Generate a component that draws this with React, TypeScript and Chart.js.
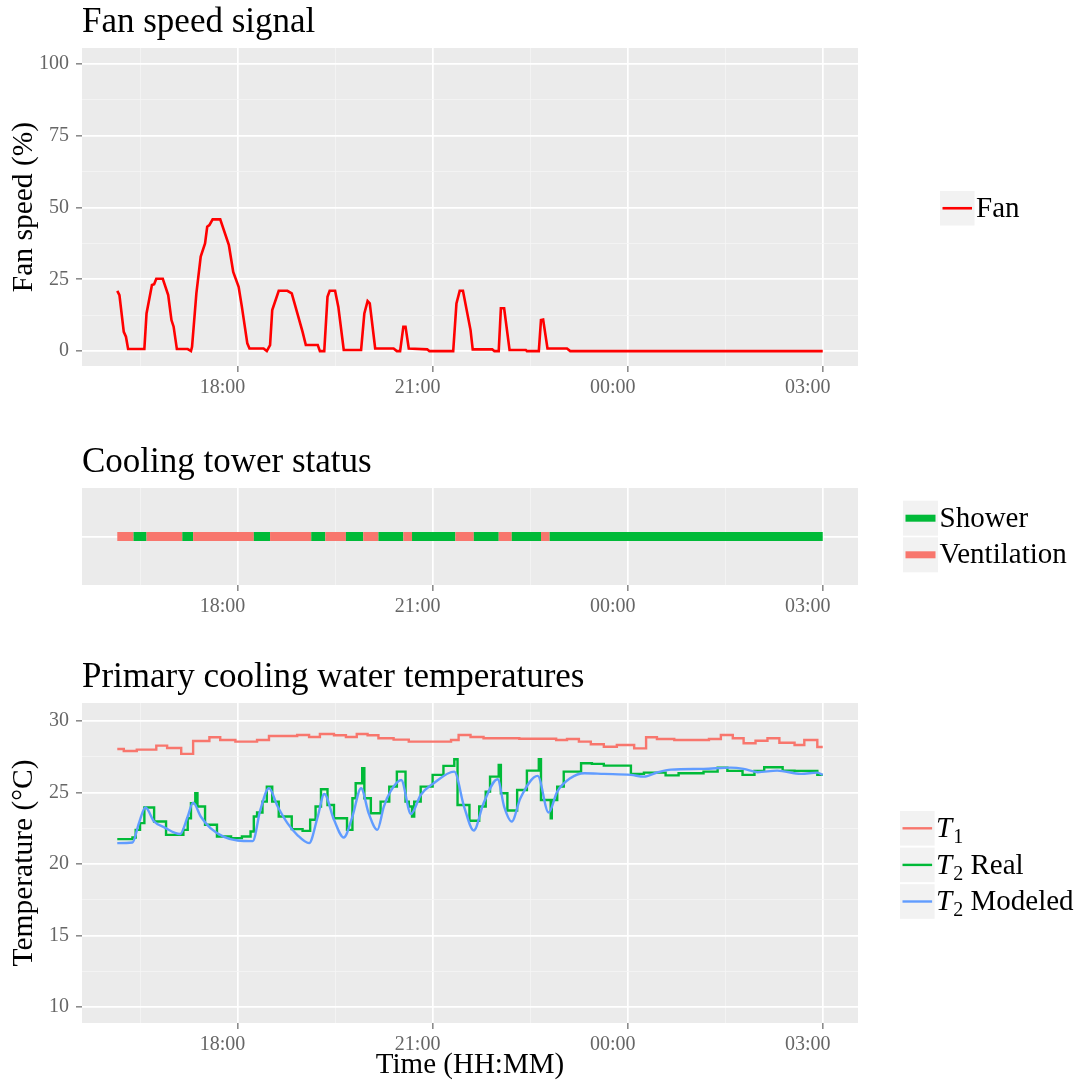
import React, { useEffect, useRef } from 'react';
import { Chart, registerables } from 'chart.js';

Chart.register(...registerables);

const FONT = "'Liberation Serif', 'Times New Roman', serif";
const TICK_GREY = '#666666';
const PANEL_BG = '#EBEBEB';
const KEY_BG = '#F2F2F2';
const MINOR_GRID = '#F5F5F5';

// Time axis labels (the night rolls past midnight)
const timeTickLabels = ['18:00', '21:00', '00:00', '03:00'];
const fanTickValues = [0, 25, 50, 75, 100];
const tempTickValues = [10, 15, 20, 25, 30];

// Fan speed signal (%)
const fanTimes = ['16:09', '16:11', '16:15', '16:17', '16:19', '16:34', '16:36', '16:41', '16:43', '16:45', '16:51', '16:56', '16:59', '17:01', '17:04', '17:14', '17:17', '17:18', '17:22', '17:26', '17:30', '17:32', '17:34', '17:37', '17:44', '17:52', '17:56', '18:01', '18:04', '18:09', '18:11', '18:24', '18:27', '18:30', '18:32', '18:38', '18:46', '18:50', '19:00', '19:03', '19:14', '19:16', '19:20', '19:23', '19:25', '19:30', '19:33', '19:38', '19:54', '19:57', '20:00', '20:02', '20:07', '20:24', '20:27', '20:30', '20:33', '20:35', '20:38', '20:55', '20:57', '21:19', '21:22', '21:25', '21:28', '21:35', '21:37', '21:55', '21:57', '22:01', '22:03', '22:06', '22:11', '22:26', '22:27', '22:38', '22:40', '22:42', '22:46', '23:04', '23:07', '03:00'];
const fanValues = [21.0, 19.5, 6.7, 5.0, 0.7, 0.7, 13.1, 23.0, 23.3, 25.2, 25.2, 19.5, 10.8, 8.5, 0.7, 0.7, 0, 1.5, 20.1, 32.9, 37.5, 43.3, 43.9, 45.9, 45.9, 36.9, 27.6, 22.4, 15.4, 2.7, 0.9, 0.9, 0, 2.1, 14.3, 21.0, 21.0, 20.1, 6.7, 2.1, 2.1, 0, 0, 18.9, 21.0, 21.0, 15.4, 0.4, 0.4, 13.1, 17.4, 16.6, 0.9, 0.9, 0, 0, 8.5, 8.5, 0.9, 0.6, 0, 0, 16.6, 21.0, 21.0, 7.3, 0.6, 0.6, 0, 0, 14.9, 14.9, 0.4, 0.4, 0, 0, 10.8, 11.0, 0.9, 0.9, 0, 0];

// Cooling tower mode: each mode holds from its start time until the next change
const statusTimes = ['16:09', '16:24', '16:36', '17:09', '17:19', '18:15', '18:30', '19:08', '19:21', '19:40', '19:56', '20:10', '20:33', '20:41', '21:21', '21:38', '22:01', '22:13', '22:40', '22:48'];
const statusModes = ['Ventilation', 'Shower', 'Ventilation', 'Shower', 'Ventilation', 'Shower', 'Ventilation', 'Shower', 'Ventilation', 'Shower', 'Ventilation', 'Shower', 'Ventilation', 'Shower', 'Ventilation', 'Shower', 'Ventilation', 'Shower', 'Ventilation', 'Shower'];
const statusEnd = '03:00';

// Primary cooling water temperatures (°C)
const t1Times = ['16:09', '16:15', '16:27', '16:45', '16:55', '17:08', '17:19', '17:34', '17:44', '17:58', '18:18', '18:29', '18:55', '19:06', '19:16', '19:29', '19:40', '19:50', '20:00', '20:10', '20:24', '20:38', '21:17', '21:24', '21:35', '21:47', '22:20', '22:54', '23:04', '23:15', '23:26', '23:38', '23:50', '00:06', '00:17', '00:27', '00:43', '01:15', '01:26', '01:37', '01:47', '01:58', '02:09', '02:20', '02:34', '02:43', '02:55', '03:00'];
const t1Values = [28.04, 27.9, 28.0, 28.28, 28.11, 27.7, 28.6, 28.86, 28.67, 28.56, 28.67, 28.95, 29.02, 28.88, 29.09, 29.0, 28.88, 29.09, 29.0, 28.79, 28.7, 28.56, 28.67, 29.02, 28.88, 28.79, 28.76, 28.67, 28.74, 28.56, 28.37, 28.2, 28.32, 28.09, 28.86, 28.74, 28.67, 28.74, 29.02, 28.79, 28.44, 28.62, 28.79, 28.48, 28.32, 28.67, 28.18, 28.18];

const t2RealTimes = ['16:09', '16:23', '16:26', '16:30', '16:34', '16:43', '16:54', '17:10', '17:14', '17:17', '17:21', '17:23', '17:30', '17:41', '17:54', '18:04', '18:12', '18:15', '18:18', '18:23', '18:27', '18:32', '18:38', '18:50', '19:00', '19:07', '19:12', '19:17', '19:23', '19:29', '19:41', '19:46', '19:49', '19:55', '19:57', '20:03', '20:12', '20:20', '20:27', '20:35', '20:38', '20:41', '20:43', '20:49', '21:00', '21:10', '21:20', '21:23', '21:34', '21:43', '21:49', '21:53', '22:01', '22:03', '22:09', '22:18', '22:27', '22:38', '22:40', '22:49', '22:50', '22:55', '23:01', '23:17', '23:27', '23:38', '00:03', '00:15', '00:35', '00:47', '01:10', '01:23', '01:32', '01:46', '01:57', '02:06', '02:23', '02:34', '02:55', '03:00'];
const t2RealValues = [21.74, 21.85, 22.39, 22.86, 23.95, 22.97, 22.04, 22.39, 23.2, 24.25, 24.95, 24.02, 22.74, 21.92, 21.81, 21.92, 22.27, 23.32, 23.6, 24.36, 25.41, 24.36, 23.32, 22.44, 22.32, 23.09, 24.02, 25.23, 24.13, 23.2, 22.39, 24.6, 25.65, 26.7, 24.6, 23.55, 24.36, 25.41, 26.46, 24.36, 24.02, 23.32, 24.36, 25.41, 26.23, 26.86, 27.33, 24.13, 23.02, 24.02, 25.06, 26.11, 26.93, 24.95, 23.74, 25.18, 26.53, 27.33, 24.48, 23.2, 24.48, 25.41, 26.46, 27.05, 27.0, 26.88, 26.3, 26.39, 26.2, 26.35, 26.46, 26.74, 26.51, 26.23, 26.51, 26.77, 26.53, 26.51, 26.23, 26.23];

const t2ModelTimes = ['16:09', '16:23', '16:29', '16:35', '16:43', '16:52', '17:07', '17:14', '17:19', '17:26', '17:35', '17:47', '18:00', '18:14', '18:21', '18:29', '18:37', '18:46', '18:55', '19:06', '19:14', '19:20', '19:29', '19:38', '19:46', '19:54', '20:01', '20:09', '20:15', '20:21', '20:31', '20:40', '20:49', '21:01', '21:20', '21:29', '21:38', '21:47', '22:00', '22:06', '22:13', '22:21', '22:37', '22:47', '22:55', '23:07', '23:20', '23:38', '00:03', '00:15', '00:27', '00:40', '01:10', '01:35', '01:47', '02:00', '02:18', '02:40', '02:55', '03:00'];
const t2ModelValues = [21.46, 21.5, 22.86, 23.95, 22.97, 22.58, 22.1, 23.32, 24.29, 23.32, 22.51, 21.92, 21.64, 21.6, 23.78, 25.3, 24.02, 22.86, 22.04, 21.46, 23.32, 24.9, 23.09, 21.85, 23.32, 25.3, 23.55, 22.39, 24.02, 25.06, 25.88, 23.5, 24.83, 25.65, 26.46, 24.02, 22.34, 24.25, 25.93, 24.02, 22.97, 24.6, 26.16, 23.6, 25.06, 26.0, 26.35, 26.3, 26.23, 26.11, 26.4, 26.6, 26.65, 26.74, 26.65, 26.42, 26.53, 26.3, 26.39, 26.23];

const MODE_COLOURS: Record<string, string> = { Shower: '#00BA38', Ventilation: '#F8766D' };

const toHours = (s: string) => {
  const [h, m] = s.split(':').map(Number);
  const v = h + m / 60;
  return v < 12 ? v + 24 : v;
};
const toPoints = (times: string[], values: number[]) =>
  times.map((t, i) => ({ x: toHours(t), y: values[i] }));

// x range: data span expanded by 5 % on each side
const spanHours = [...fanTimes, ...t1Times].map(toHours);
const tStart = Math.min(...spanHours);
const tEnd = Math.max(...spanHours);
const tPad = (tEnd - tStart) * 0.05;
const xMin = tStart - tPad;
const xMax = tEnd + tPad;

const majorHours = timeTickLabels.map(toHours);
const hourStep = majorHours[1] - majorHours[0];
const xGrid = [majorHours[0] - hourStep / 2, ...majorHours.flatMap((h) => [h, h + hourStep / 2])].filter(
  (h) => h >= xMin && h <= xMax,
);

const near = (list: number[], v: number) => list.some((w) => Math.abs(w - v) < 1e-6);
const withMinors = (majors: number[]) => {
  const out: number[] = [];
  majors.forEach((m, i) => {
    out.push(m);
    if (i < majors.length - 1) out.push((m + majors[i + 1]) / 2);
  });
  return out;
};

const gridStyle = (majors: number[], ticks = true) => ({
  color: (c: any) => (near(majors, c.tick?.value) ? '#FFFFFF' : MINOR_GRID),
  lineWidth: (c: any) => (near(majors, c.tick?.value) ? 1.7 : 0.8),
  tickColor: (c: any) => (near(majors, c.tick?.value) ? TICK_GREY : 'rgba(0,0,0,0)'),
  tickWidth: 1.2,
  tickLength: 6,
  drawTicks: ticks,
});

const timeAxis = (height: number, withTitle: boolean) => ({
  type: 'linear',
  min: xMin,
  max: xMax,
  afterBuildTicks: (s: any) => {
    s.ticks = xGrid.map((value) => ({ value }));
  },
  afterFit: (s: any) => {
    s.height = height;
  },
  border: { display: false },
  grid: gridStyle(majorHours),
  ticks: {
    autoSkip: false,
    maxRotation: 0,
    padding: 4,
    labelOffset: -15,
    color: TICK_GREY,
    font: { family: FONT, size: 20 },
    callback: (v: number) => {
      const i = majorHours.findIndex((h) => Math.abs(h - v) < 1e-6);
      return i >= 0 ? timeTickLabels[i] : '';
    },
  },
  title: {
    display: withTitle,
    text: 'Time (HH:MM)',
    color: '#000',
    font: { family: FONT, size: 29 },
    padding: { top: 0, bottom: 0 },
  },
});

const valueAxis = (min: number, max: number, majors: number[], title: string) => ({
  type: 'linear',
  min,
  max,
  afterBuildTicks: (s: any) => {
    s.ticks = withMinors(majors).map((value) => ({ value }));
  },
  afterFit: (s: any) => {
    s.width = 82;
  },
  border: { display: false },
  grid: gridStyle(majors),
  ticks: {
    autoSkip: false,
    padding: 7,
    color: TICK_GREY,
    font: { family: FONT, size: 20 },
    callback: (v: number) => (near(majors, v) ? String(v) : ''),
  },
  title: {
    display: true,
    text: title,
    color: '#000',
    font: { family: FONT, size: 29.5 },
    padding: { top: 7, bottom: 0 },
  },
});

type LabelPart = { text: string; italic?: boolean; sub?: boolean };
type LegendItem = { color: string; thickness: number; parts: LabelPart[] };
type LegendSpec = { x: number; top: number; size: number; gap: number; items: LegendItem[] };

// Panel background, panel title and ggplot-style legend keys
const makeDecor = (title: string, legend: LegendSpec) => ({
  id: 'panelDecor',
  beforeDraw(chart: any) {
    const { ctx, chartArea: a } = chart;
    ctx.save();
    ctx.fillStyle = PANEL_BG;
    ctx.fillRect(a.left, a.top, a.right - a.left, a.bottom - a.top);
    ctx.fillStyle = '#000';
    ctx.font = `35px ${FONT}`;
    ctx.textAlign = 'left';
    ctx.textBaseline = 'alphabetic';
    ctx.fillText(title, a.left, a.top - 16);
    ctx.restore();
  },
  afterDraw(chart: any) {
    const { ctx } = chart;
    const { x, top, size, gap, items } = legend;
    ctx.save();
    items.forEach((item, i) => {
      const y = top + i * (size + gap);
      ctx.fillStyle = KEY_BG;
      ctx.fillRect(x, y, size, size);
      ctx.strokeStyle = item.color;
      ctx.lineWidth = item.thickness;
      ctx.lineCap = 'butt';
      ctx.beginPath();
      ctx.moveTo(x + 2.5, y + size / 2);
      ctx.lineTo(x + size - 2.5, y + size / 2);
      ctx.stroke();
      let tx = x + size + 1.5;
      ctx.fillStyle = '#000';
      ctx.textAlign = 'left';
      ctx.textBaseline = 'alphabetic';
      item.parts.forEach((p) => {
        ctx.font = `${p.italic ? 'italic ' : ''}${p.sub ? 20 : 29}px ${FONT}`;
        ctx.fillText(p.text, tx, y + 26 + (p.sub ? 6 : 0));
        tx += ctx.measureText(p.text).width + (p.italic ? 1 : 0);
      });
    });
    ctx.restore();
  },
});

const common = (padding: any) => ({
  responsive: false,
  animation: false,
  events: [],
  layout: { padding },
  elements: { point: { radius: 0 }, line: { tension: 0 } },
  plugins: { legend: { display: false }, title: { display: false }, tooltip: { enabled: false } },
});

const fanConfig = () => ({
  type: 'line',
  data: {
    datasets: [
      {
        data: toPoints(fanTimes, fanValues),
        borderColor: '#FF0000',
        borderWidth: 2.6,
        fill: false,
      },
    ],
  },
  options: {
    ...common({ top: 48, left: 0, right: 217, bottom: 14 }),
    scales: {
      x: timeAxis(40, false),
      y: valueAxis(-5.2, 105.6, fanTickValues, 'Fan speed (%)'),
    },
  },
  plugins: [
    makeDecor('Fan speed signal', {
      x: 940,
      top: 191,
      size: 34.5,
      gap: 1.7,
      items: [{ color: '#FF0000', thickness: 2.6, parts: [{ text: 'Fan' }] }],
    }),
  ],
});

const statusConfig = () => ({
  type: 'line',
  data: {
    datasets: [
      {
        data: [...statusTimes, statusEnd].map((t) => ({ x: toHours(t), y: 1 })),
        borderWidth: 9,
        borderCapStyle: 'butt',
        borderColor: MODE_COLOURS.Shower,
        segment: { borderColor: (c: any) => MODE_COLOURS[statusModes[c.p0DataIndex]] },
        fill: false,
      },
    ],
  },
  options: {
    ...common({ top: 68, left: 0, right: 217, bottom: 10 }),
    scales: {
      x: timeAxis(40, false),
      y: {
        type: 'linear',
        min: 0,
        max: 2,
        afterBuildTicks: (s: any) => {
          s.ticks = [{ value: 1 }];
        },
        afterFit: (s: any) => {
          s.width = 82;
        },
        border: { display: false },
        grid: { color: '#FFFFFF', lineWidth: 1.7, drawTicks: false },
        ticks: { display: false },
      },
    },
  },
  plugins: [
    makeDecor('Cooling tower status', {
      x: 903,
      top: 80.7,
      size: 35,
      gap: 1.6,
      items: [
        { color: MODE_COLOURS.Shower, thickness: 7, parts: [{ text: 'Shower' }] },
        { color: MODE_COLOURS.Ventilation, thickness: 7, parts: [{ text: 'Ventilation' }] },
      ],
    }),
  ],
});

const tempConfig = () => ({
  type: 'line',
  data: {
    datasets: [
      {
        data: toPoints(t1Times, t1Values),
        borderColor: '#F8766D',
        borderWidth: 2.4,
        stepped: 'before',
        fill: false,
        order: 2,
      },
      {
        data: toPoints(t2RealTimes, t2RealValues),
        borderColor: '#00BA38',
        borderWidth: 2.4,
        stepped: 'before',
        fill: false,
        order: 1,
      },
      {
        data: toPoints(t2ModelTimes, t2ModelValues),
        borderColor: '#619CFF',
        borderWidth: 2.4,
        cubicInterpolationMode: 'monotone',
        fill: false,
        order: 0,
      },
    ],
  },
  options: {
    ...common({ top: 68, left: 0, right: 217, bottom: 1 }),
    scales: {
      x: timeAxis(60, true),
      y: valueAxis(8.88, 31.26, tempTickValues, 'Temperature (°C)'),
    },
  },
  plugins: [
    makeDecor('Primary cooling water temperatures', {
      x: 900,
      top: 176,
      size: 34.6,
      gap: 2,
      items: [
        { color: '#F8766D', thickness: 2.4, parts: [{ text: 'T', italic: true }, { text: '1', sub: true }] },
        {
          color: '#00BA38',
          thickness: 2.4,
          parts: [{ text: 'T', italic: true }, { text: '2', sub: true }, { text: ' Real' }],
        },
        {
          color: '#619CFF',
          thickness: 2.4,
          parts: [{ text: 'T', italic: true }, { text: '2', sub: true }, { text: ' Modeled' }],
        },
      ],
    }),
  ],
});

const panels = [
  { top: 0, height: 420, build: fanConfig },
  { top: 420, height: 215, build: statusConfig },
  { top: 635, height: 449, build: tempConfig },
];

export default function App() {
  const refs = [useRef<HTMLCanvasElement>(null), useRef<HTMLCanvasElement>(null), useRef<HTMLCanvasElement>(null)];

  useEffect(() => {
    const charts = panels.map((p, i) => new Chart(refs[i].current as HTMLCanvasElement, p.build() as any));
    return () => charts.forEach((c) => c.destroy());
  }, []);

  return (
    <div style={{ position: 'absolute', left: 0, top: 0, width: 1075, height: 1084, background: '#FFFFFF' }}>
      {panels.map((p, i) => (
        <canvas
          key={i}
          ref={refs[i]}
          width={1075}
          height={p.height}
          style={{ position: 'absolute', left: 0, top: p.top, width: 1075, height: p.height }}
        />
      ))}
    </div>
  );
}
